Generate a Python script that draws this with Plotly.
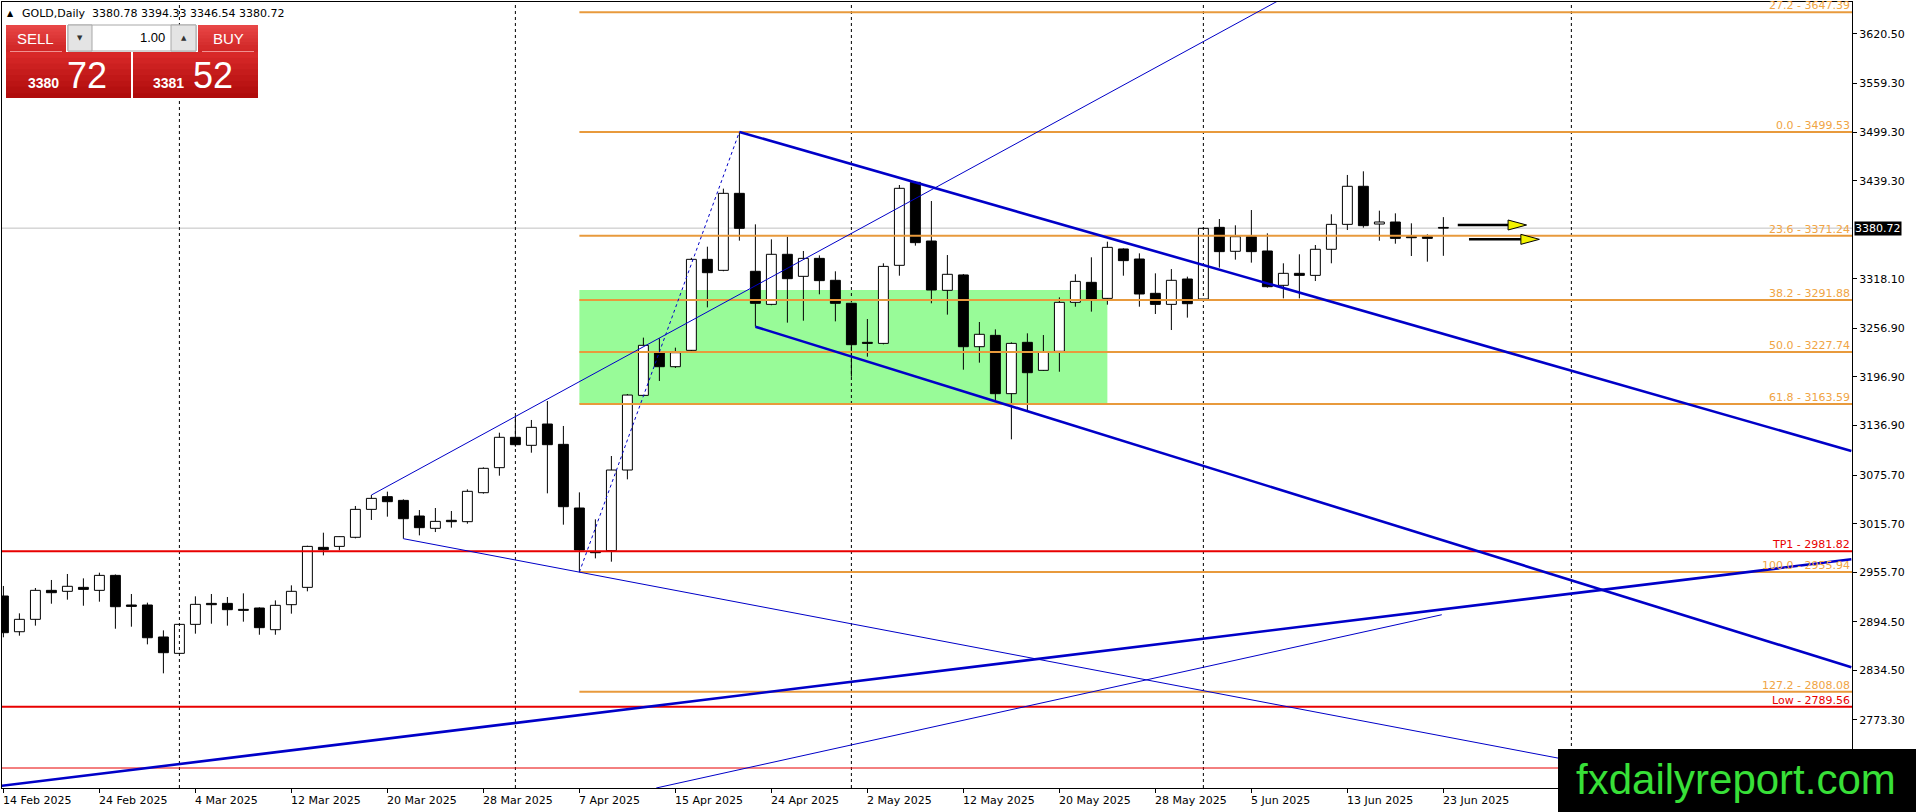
import plotly.graph_objects as go

# ---------------- data ----------------
opens = [2926.4, 2882.3, 2897.6, 2933.4, 2932.2, 2937.1, 2933.4, 2951.9, 2915.3, 2915.3,
         2875.8, 2855.6, 2891.4, 2917.3, 2917.3, 2909.9, 2911.6, 2884.8, 2915.7, 2937.1,
         2986.5, 2987.7, 2998.9, 3033.4, 3049.1, 3044.5, 3025.2, 3010.0, 3019.9, 3018.2,
         3054.0, 3084.9, 3122.4, 3112.5, 3138.8, 3113.7, 3035.1, 2981.1, 2982.4, 3082.0,
         3174.2, 3226.5, 3209.6, 3229.8, 3342.2, 3328.6, 3423.7, 3327.4, 3286.6, 3348.4,
         3321.2, 3343.4, 3316.3, 3287.9, 3239.7, 3238.4, 3334.8, 3437.3, 3364.8, 3303.9,
         3322.9, 3234.3, 3248.3, 3176.3, 3239.7, 3205.1, 3228.6, 3289.1, 3313.8, 3294.0,
         3355.0, 3342.6, 3300.2, 3286.6, 3317.9, 3293.2, 3381.7, 3352.1, 3370.2, 3352.5,
         3310.1, 3324.9, 3322.4, 3354.6, 3385.4, 3432.4, 3385.8, 3388.3, 3370.2, 3370.2,
         3380.78]
highs = [2938.8, 2905.0, 2936.3, 2946.2, 2953.6, 2948.2, 2955.2, 2953.0, 2928.9, 2918.2,
         2884.0, 2891.4, 2926.0, 2928.9, 2925.2, 2929.7, 2912.4, 2921.0, 2939.6, 2988.5,
         3004.6, 3000.1, 3037.6, 3051.1, 3055.3, 3045.8, 3032.6, 3035.1, 3031.4, 3058.1,
         3085.3, 3128.1, 3147.9, 3143.8, 3167.2, 3136.4, 3054.4, 3021.1, 3099.3, 3175.9,
         3245.5, 3244.6, 3233.1, 3344.0, 3357.8, 3429.5, 3499.53, 3385.4, 3366.9, 3370.2,
         3352.5, 3347.1, 3327.4, 3288.7, 3268.5, 3337.3, 3434.0, 3438.5, 3414.2, 3347.5,
         3324.1, 3264.8, 3255.7, 3239.7, 3250.8, 3248.7, 3295.2, 3323.7, 3344.7, 3364.0,
         3355.8, 3349.6, 3324.9, 3330.2, 3320.8, 3381.5, 3392.0, 3384.2, 3403.1, 3374.3,
         3337.3, 3348.4, 3359.9, 3397.8, 3446.4, 3450.9, 3402.3, 3399.0, 3386.7, 3373.1,
         3394.33]
lows = [2875.4, 2877.4, 2889.8, 2916.9, 2921.9, 2914.4, 2919.4, 2886.0, 2888.5, 2866.7,
        2830.9, 2854.8, 2879.9, 2892.2, 2889.8, 2894.7, 2878.6, 2878.6, 2904.6, 2932.2,
        2976.6, 2982.8, 2997.6, 3020.3, 3024.4, 2997.2, 3001.3, 3005.4, 3010.8, 3015.7,
        3052.8, 3075.0, 3110.8, 3103.4, 3053.2, 3014.5, 2955.94, 2972.9, 2968.8, 3070.5,
        3173.5, 3192.0, 3208.0, 3229.0, 3282.9, 3327.5, 3365.3, 3259.0, 3285.5, 3264.0,
        3266.4, 3299.0, 3265.6, 3197.3, 3222.0, 3237.2, 3322.0, 3359.1, 3287.9, 3273.9,
        3205.9, 3214.6, 3168.5, 3119.9, 3154.0, 3204.5, 3203.4, 3283.7, 3277.6, 3286.2,
        3322.0, 3283.7, 3274.7, 3254.9, 3270.2, 3292.5, 3331.9, 3341.8, 3338.1, 3307.2,
        3294.0, 3294.0, 3315.4, 3337.3, 3378.4, 3381.3, 3365.2, 3361.5, 3346.3, 3339.3,
        3346.54]
closes = [2881.1, 2897.6, 2933.4, 2930.5, 2938.4, 2934.6, 2951.9, 2913.2, 2913.6, 2874.9,
          2856.4, 2891.4, 2916.1, 2915.7, 2909.5, 2908.7, 2887.3, 2914.9, 2932.2, 2987.7,
          2983.6, 2999.7, 3033.4, 3047.0, 3042.9, 3021.9, 3010.8, 3018.6, 3018.2, 3055.7,
          3084.1, 3122.4, 3113.3, 3134.7, 3113.3, 3036.7, 2983.2, 2979.9, 3082.0, 3174.6,
          3236.0, 3209.6, 3226.9, 3342.2, 3325.7, 3423.7, 3380.5, 3287.9, 3348.4, 3318.3,
          3343.4, 3315.9, 3287.9, 3236.8, 3238.4, 3333.5, 3429.9, 3362.8, 3304.3, 3323.7,
          3234.3, 3249.6, 3176.3, 3238.4, 3202.2, 3227.3, 3289.1, 3315.0, 3293.2, 3357.0,
          3340.6, 3299.4, 3286.6, 3316.3, 3287.4, 3380.5, 3351.7, 3370.2, 3351.7, 3308.4,
          3324.9, 3322.4, 3354.6, 3385.4, 3432.4, 3383.8, 3388.3, 3368.1, 3368.9, 3368.1,
          3380.72]

x_label_idx = [0, 6, 12, 18, 24, 30, 36, 42, 48, 54, 60, 66, 72, 78, 84, 90]
x_labels = ["14 Feb 2025", "24 Feb 2025", "4 Mar 2025", "12 Mar 2025", "20 Mar 2025",
            "28 Mar 2025", "7 Apr 2025", "15 Apr 2025", "24 Apr 2025", "2 May 2025",
            "12 May 2025", "20 May 2025", "28 May 2025", "5 Jun 2025", "13 Jun 2025",
            "23 Jun 2025"]
y_ticks = [3620.50, 3559.30, 3499.30, 3439.30, 3318.10, 3256.90, 3196.90, 3136.90,
           3075.70, 3015.70, 2955.70, 2894.50, 2834.50, 2773.30]
month_sep_idx = [11, 32, 53, 75, 98]

fib_ratios = ["27.2", "0.0", "23.6", "38.2", "50.0", "61.8", "100.0", "127.2"]
fib_levels = [3647.39, 3499.53, 3371.24, 3291.88, 3227.74, 3163.59, 2955.94, 2808.08]
fib_start_idx = 36

red_names = ["TP1", "Low"]
red_levels = [2981.82, 2789.56]
red_plain_level = 2714.0

zone_x = [36, 69]
zone_y = [3163.5, 3304.3]

last_price = 3380.72
symbol_text = "GOLD,Daily\u00a0\u00a03380.78 3394.33 3346.54 3380.72"
bid_big, bid_small = "72", "3380"
ask_big, ask_small = "52", "3381"
lot_text = "1.00"

# trend lines: anchor points (bar index, price)
thick_rays = [((46, 3499.53), (115.5, 3105.5)),
              ((47, 3259.0), (115.5, 2838.4)),
              ((-0.1, 2692.0), (115.5, 2971.7))]
thin_rays = [((23, 3051.1), (70, 3557.3)),
             ((25, 2997.2), (36, 2955.9))]
thin_segment = ((40.8, 2689.3), (89.9, 2903.3))
fib_base = ((36, 2955.94), (46, 3499.53))

arrows = [((90.9, 3384.6), (95.2, 3384.6)),
          ((91.6, 3366.9), (96.0, 3366.9))]

# ---------------- geometry ----------------
W, H = 1916, 812
ML, MR, MT, MB = 2, 64, 2, 24
PW, PH = W - ML - MR, H - MT - MB
XR = [-0.0875, 115.54]
YR = [2689.3, 3660.0]
BAR_PX = PW / (XR[1] - XR[0])
PRICE_PX = PH / (YR[1] - YR[0])


def px(x):
    return (x - ML) / PW


def py(y):
    return (H - MB - y) / PH


def ray_to(p0, p1, xend):
    (x0, y0), (x1, y1) = p0, p1
    return y0 + (y1 - y0) * (xend - x0) / (x1 - x0)


fig = go.Figure()

# wicks
wx, wy = [], []
for i, (o, h, l, c) in enumerate(zip(opens, highs, lows, closes)):
    top, bot = max(o, c), min(o, c)
    if h > top:
        wx += [i, i, None]
        wy += [top, h, None]
    if l < bot:
        wx += [i, i, None]
        wy += [bot, l, None]

bodies_h = [max(abs(c - o), 0.9) for o, c in zip(opens, closes)]
bodies_b = [min(o, c) for o, c in zip(opens, closes)]
body_col = ["white" if c > o else "black" for o, c in zip(opens, closes)]

fig.add_trace(go.Bar(x=list(range(len(opens))), y=bodies_h, base=bodies_b, width=0.62,
                     marker=dict(color=body_col, line=dict(color="black", width=1)),
                     hoverinfo="skip"))
fig.add_trace(go.Scatter(x=wx, y=wy, mode="lines", line=dict(color="black", width=1),
                         hoverinfo="skip"))

BLUE = "#0000C8"
FIB_LINE = "#E89A3C"
FIB_TEXT = "#F0A444"
RED = "#E80000"

# separators
for s in month_sep_idx:
    fig.add_trace(go.Scatter(x=[s, s], y=YR, mode="lines",
                             line=dict(color="black", width=1, dash="3px,3px"),
                             hoverinfo="skip"))

# fib levels
for lev in fib_levels:
    fig.add_trace(go.Scatter(x=[fib_start_idx, XR[1]], y=[lev, lev], mode="lines",
                             line=dict(color=FIB_LINE, width=2), hoverinfo="skip"))

# red lines
for lev in red_levels:
    fig.add_trace(go.Scatter(x=XR, y=[lev, lev], mode="lines",
                             line=dict(color=RED, width=2), hoverinfo="skip"))
fig.add_trace(go.Scatter(x=XR, y=[red_plain_level, red_plain_level], mode="lines",
                         line=dict(color=RED, width=1), hoverinfo="skip"))

# trend lines
for p0, p1 in thick_rays:
    fig.add_trace(go.Scatter(x=[p0[0], p1[0]], y=[p0[1], p1[1]], mode="lines",
                             line=dict(color=BLUE, width=2.6), hoverinfo="skip"))
for p0, p1 in thin_rays:
    fig.add_trace(go.Scatter(x=[p0[0], XR[1]], y=[p0[1], ray_to(p0, p1, XR[1])],
                             mode="lines", line=dict(color=BLUE, width=1), hoverinfo="skip"))
fig.add_trace(go.Scatter(x=[thin_segment[0][0], thin_segment[1][0]],
                         y=[thin_segment[0][1], thin_segment[1][1]], mode="lines",
                         line=dict(color=BLUE, width=1), hoverinfo="skip"))
fig.add_trace(go.Scatter(x=[fib_base[0][0], fib_base[1][0]],
                         y=[fib_base[0][1], fib_base[1][1]], mode="lines",
                         line=dict(color=BLUE, width=1, dash="3px,3px"), hoverinfo="skip"))

# arrows
head_len = 18.5 / BAR_PX
head_half = 5.0 / PRICE_PX
for (x0, y0), (x1, y1) in arrows:
    base = x1 - head_len
    fig.add_trace(go.Scatter(x=[x0, base], y=[y0, y1], mode="lines",
                             line=dict(color="black", width=2.5), hoverinfo="skip"))
    fig.add_trace(go.Scatter(x=[base, x1, base, base], y=[y1 + head_half, y1, y1 - head_half, y1 + head_half],
                             mode="lines", fill="toself", fillcolor="#F2F200",
                             line=dict(color="black", width=1), hoverinfo="skip"))

shapes = []
# zone and current price line (background)
shapes.append(dict(type="rect", xref="x", yref="y", x0=zone_x[0], x1=zone_x[1],
                   y0=zone_y[0], y1=zone_y[1], fillcolor="#98FB98", line=dict(width=0),
                   layer="below"))
shapes.append(dict(type="line", xref="paper", yref="y", x0=0, x1=1, y0=last_price,
                   y1=last_price, line=dict(color="#C0C0C0", width=1), layer="below"))


def grad_rect(x0, x1, y0, y1, ctop, cbot, n=8):
    out = [dict(type="rect", xref="paper", yref="paper", x0=px(x0), x1=px(x1),
                y0=py(y1), y1=py(y0), fillcolor="rgb(%d,%d,%d)" % cbot,
                line=dict(width=0), layer="above")]
    for k in range(n - 1):
        t = k / (n - 1)
        col = "rgb(%d,%d,%d)" % tuple(int(a + (b - a) * t) for a, b in zip(ctop, cbot))
        ya = y0 + (y1 - y0) * k / n
        out.append(dict(type="rect", xref="paper", yref="paper", x0=px(x0), x1=px(x1),
                        y0=py(y0 + (y1 - y0) * (k + 1) / n + 1.0), y1=py(ya),
                        fillcolor=col, line=dict(width=0), layer="above"))
    return out


def rect(x0, x1, y0, y1, fill, lc=None, lw=0):
    return dict(type="rect", xref="paper", yref="paper", x0=px(x0), x1=px(x1),
                y0=py(y1), y1=py(y0), fillcolor=fill,
                line=dict(width=lw, color=lc or fill), layer="above")


# trading panel
shapes += grad_rect(6, 66, 25, 52, (232, 70, 70), (208, 38, 38))
shapes += grad_rect(198, 258, 25, 52, (232, 70, 70), (208, 38, 38))
shapes += grad_rect(6, 131, 52, 98, (216, 40, 40), (176, 12, 12))
shapes += grad_rect(133, 258, 52, 98, (216, 40, 40), (176, 12, 12))
shapes.append(rect(68, 196, 25, 51, "#FFFFFF", "#A8A8A8", 1))
shapes.append(rect(68, 92, 25, 51, "#E4E4E4", "#A8A8A8", 1))
shapes.append(rect(171, 196, 25, 51, "#E4E4E4", "#A8A8A8", 1))
shapes.append(dict(type="line", xref="paper", yref="paper", x0=px(10), x1=px(62),
                   y0=py(51.5), y1=py(51.5), line=dict(color="#F09090", width=1), layer="above"))
shapes.append(dict(type="line", xref="paper", yref="paper", x0=px(202), x1=px(254),
                   y0=py(51.5), y1=py(51.5), line=dict(color="#F09090", width=1), layer="above"))
# watermark box
shapes.append(rect(1558, 1920, 749, 815, "black"))

ann = []
# x labels
for i, t in zip(x_label_idx, x_labels):
    ann.append(dict(x=i, y=0, xref="x", yref="paper", text=t, showarrow=False,
                    xanchor="left", yanchor="middle", yshift=-12, xshift=-1,
                    borderpad=0, font=dict(family="DejaVu Sans", size=11, color="black")))
# fib labels
for r, lev in zip(fib_ratios, fib_levels):
    ann.append(dict(x=1, y=lev, xref="paper", yref="y", text=f"{r} - {lev:.2f}",
                    showarrow=False, xanchor="right", yanchor="bottom", xshift=-1, yshift=-1,
                    borderpad=0, font=dict(family="DejaVu Sans", size=11, color=FIB_TEXT)))
for nme, lev in zip(red_names, red_levels):
    ann.append(dict(x=1, y=lev, xref="paper", yref="y", text=f"{nme} - {lev:.2f}",
                    showarrow=False, xanchor="right", yanchor="bottom", xshift=-1, yshift=-1,
                    borderpad=0, font=dict(family="DejaVu Sans", size=11, color=RED)))
# current price tag
ann.append(dict(x=1, y=last_price, xref="paper", yref="y", text=f"{last_price:.2f}",
                showarrow=False, xanchor="left", yanchor="middle", xshift=2, borderpad=0,
                bgcolor="black", font=dict(family="DejaVu Sans", size=11, color="white")))


def ptext(x, y, text, size, color, family="DejaVu Sans", xa="left", ya="middle"):
    return dict(x=px(x), y=py(y), xref="paper", yref="paper", text=text, showarrow=False,
                xanchor=xa, yanchor=ya, borderpad=0,
                font=dict(family=family, size=size, color=color))


ann.append(ptext(6, 13, "\u25B2", 8, "black"))
ann.append(ptext(21, 13, symbol_text, 11, "black"))
ann.append(ptext(35.5, 38.5, "SELL", 15, "white", "Liberation Sans", "center"))
ann.append(ptext(228, 38.5, "BUY", 15, "white", "Liberation Sans", "center"))
ann.append(ptext(80, 38, "\u25BC", 7, "#333333", xa="center"))
ann.append(ptext(183.5, 38, "\u25B2", 7, "#333333", xa="center"))
ann.append(ptext(166, 38, lot_text, 13, "black", "Liberation Sans", "right"))
ann.append(ptext(27, 82.5, "<b>" + bid_small + "</b>", 14, "white", "Liberation Sans", "left"))
ann.append(ptext(66, 75, bid_big, 36, "white", "Liberation Sans", "left"))
ann.append(ptext(152, 82.5, "<b>" + ask_small + "</b>", 14, "white", "Liberation Sans", "left"))
ann.append(ptext(192, 75, ask_big, 36, "white", "Liberation Sans", "left"))
ann.append(ptext(1736, 779, "fxdailyreport.com", 42, "#38E038", "Liberation Sans", "center"))

fig.update_layout(
    width=W, height=H,
    margin=dict(l=ML, r=MR, t=MT, b=MB, pad=0),
    paper_bgcolor="white", plot_bgcolor="white",
    showlegend=False, hovermode=False, barmode="overlay",
    shapes=shapes, annotations=ann,
    xaxis=dict(range=XR, showgrid=False, zeroline=False, tickvals=x_label_idx,
               showticklabels=False, ticks="outside", ticklen=4, tickcolor="black",
               showline=True, linecolor="black", linewidth=1, mirror=True, fixedrange=True),
    yaxis=dict(range=YR, side="right", showgrid=False, zeroline=False, tickvals=y_ticks,
               ticktext=[f"{v:.2f}" for v in y_ticks], ticks="outside", ticklen=4,
               tickcolor="black", showline=True, linecolor="black", linewidth=1,
               mirror=True, fixedrange=True,
               tickfont=dict(family="DejaVu Sans", size=11, color="black")),
)

fig.write_html("out.html", config={"displayModeBar": False, "staticPlot": True},
               post_script="document.body.style.margin='0';document.body.style.overflow='hidden';")
